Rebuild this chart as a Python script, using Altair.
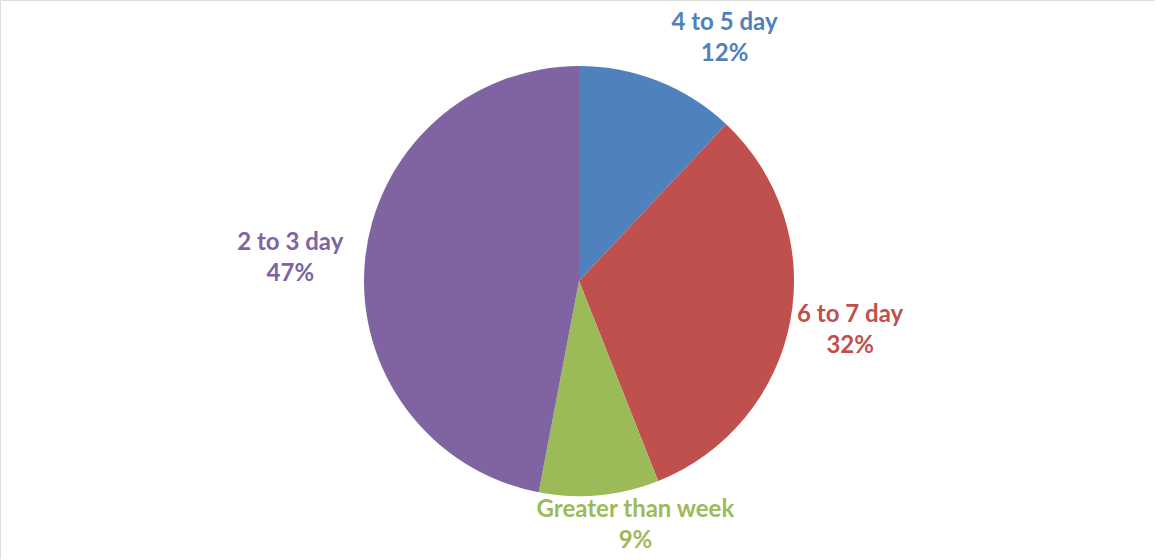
import altair as alt
import pandas as pd

categories = ["4 to 5 day", "6 to 7 day", "Greater than week", "2 to 3 day"]
percents = [12, 32, 9, 47]
colors = ["#4F81BD", "#C0504D", "#9BBB59", "#8064A2"]

df = pd.DataFrame({
    "category": categories,
    "value": percents,
    "order": list(range(len(categories))),
})
df["label"] = df["category"] + "\n" + df["value"].astype(str) + "%"

color_scale = alt.Scale(domain=categories, range=colors)

pie = alt.Chart(df).mark_arc(outerRadius=215).encode(
    theta=alt.Theta("value:Q", stack=True),
    order=alt.Order("order:Q"),
    color=alt.Color("category:N", scale=color_scale, legend=None),
    x=alt.value(579), y=alt.value(281),
)

# label placement per slice (radius, dx, dy)
label_style = {
    "4 to 5 day": (284, 41, 6),
    "6 to 7 day": (275, 1, -18),
    "Greater than week": (249, 33, -19),
    "2 to 3 day": (290, 0, -11),
}

layers = [pie]
for cat in categories:
    r, dx, dy = label_style[cat]
    layers.append(
        alt.Chart(df).transform_stack(
            stack="value", groupby=[], as_=["v0", "v1"],
            sort=[alt.SortField("order", order="ascending")],
        ).transform_calculate(
            mid="(datum.v0 + datum.v1) / 2"
        ).transform_filter(
            alt.datum.category == cat
        ).mark_text(
            radius=r, dx=dx, dy=dy, font="Lato", fontSize=24, fontWeight="bold",
            lineBreak="\n", lineHeight=31, align="center", baseline="middle",
        ).encode(
            theta=alt.Theta("mid:Q", stack=None, scale=alt.Scale(domain=[0, 100])),
            color=alt.Color("category:N", scale=color_scale, legend=None),
            x=alt.value(579), y=alt.value(281),
            text="label:N",
        )
    )

chart = alt.layer(*layers).resolve_scale(theta="independent").properties(
    width=1155, height=559,
    autosize=alt.AutoSizeParams(type="none"),
    padding=0,
).configure_view(stroke="#D9D9D9", strokeWidth=1.5).configure(background="white")

chart.save("out.html", embed_options={"renderer": "svg", "actions": False})
